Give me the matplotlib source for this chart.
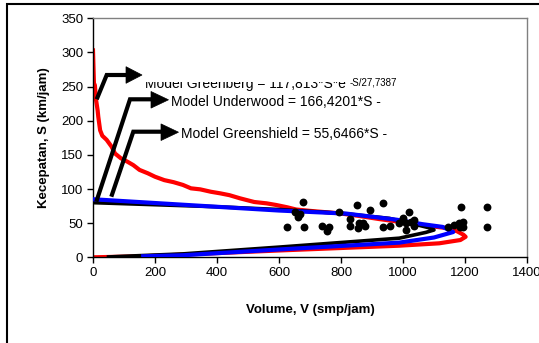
import matplotlib
matplotlib.use('Agg')
import matplotlib.pyplot as plt
from matplotlib.patches import Polygon, Rectangle
from matplotlib.lines import Line2D
from matplotlib.transforms import Bbox, TransformedBbox

plt.rcParams['font.family'] = ['Liberation Sans', 'DejaVu Sans']

# Observed data (volume, speed)
obs_v = [677, 650, 668, 660, 625, 682, 739, 754, 760, 792, 851, 830, 830, 859, 854, 870,
         878, 895, 934, 934, 959, 988, 1001, 1020, 1010, 1010, 1036, 1036, 1026,
         1146, 1165, 1188, 1181, 1195, 1195, 1184, 1272, 1272]
obs_s = [81, 67, 63, 59, 44, 44, 46, 39, 44, 67, 76, 56, 46, 50, 43, 50,
         46, 70, 79, 44, 46, 50, 57, 67, 50, 40, 55, 46, 52,
         44, 47, 73, 50, 52, 45, 44, 73, 44]

# Greenberg model curve (red)
greenberg_v = [0, 3, 6, 10, 15, 17, 20, 23, 30, 44, 60, 71, 90, 111, 130, 150, 177, 200, 230,
               260, 290, 316, 346, 380, 410, 440, 474, 520, 560, 591, 627, 655, 700, 731,
               795, 859, 923, 988, 1043, 1100, 1146, 1175, 1195, 1202, 1185, 1117, 988,
               600, 162, 0]
greenberg_s = [303, 255, 252, 230, 215, 206, 196, 186, 178, 172, 162, 152, 145, 140, 135, 128,
               123, 118, 113, 110, 106, 101, 99.5, 96, 93.7, 91, 86.4, 81, 79, 76.6, 73.2,
               70, 68, 66.8, 64.4, 60.5, 56, 52, 48.5, 45, 42.5, 38, 33, 30, 25.3, 20.5,
               17, 10, 1.5, 0]

# Underwood model curve (black)
underwood_v = [0, 200, 400, 600, 800, 956, 1050, 1095, 1100, 1074, 988, 602, 290, 100, 50]
underwood_s = [80, 77, 74, 70, 64.5, 57, 47, 42, 40, 36.5, 28, 15, 5, 1.5, 0.5]

# Greenshields model curve (blue)
greenshield_v = [0, 344, 600, 817, 980, 1063, 1128, 1162, 1100, 988, 602, 290, 162]
greenshield_s = [85, 75.5, 68.5, 64, 55, 48.5, 44.5, 37, 29, 21.5, 11.5, 3, 1.5]

x_ticks = [0, 200, 400, 600, 800, 1000, 1200, 1400]
y_ticks = [0, 50, 100, 150, 200, 250, 300, 350]

W, H = 539, 343
fig = plt.figure(figsize=(W / 100, H / 100), dpi=100)
ax = fig.add_axes([93 / W, 1 - 257.3 / H, (527 - 93) / W, (257.3 - 18.3) / H])

ax.plot(greenberg_v, greenberg_s, color='#ff0000', lw=3.0, zorder=2, solid_joinstyle='round')
ax.plot(underwood_v, underwood_s, color='#000000', lw=2.6, zorder=3)
ax.plot(greenshield_v, greenshield_s, color='#0000ff', lw=3.0, zorder=4)
ax.scatter(obs_v, obs_s, s=32, color='black', zorder=5, linewidths=0)

ax.set_xlim(0, 1400)
ax.set_ylim(0, 350)
ax.set_xticks(x_ticks)
ax.set_yticks(y_ticks)
ax.tick_params(direction='out', length=4, width=1, labelsize=9.5, pad=3)
for side in ['left', 'bottom']:
    ax.spines[side].set_color('black')
    ax.spines[side].set_linewidth(1.0)
for side in ['top', 'right']:
    ax.spines[side].set_color('#808080')
    ax.spines[side].set_linewidth(1.0)
ax.set_xlabel('Volume, V (smp/jam)', fontsize=9.5, fontweight='bold', labelpad=18)
ax.set_ylabel('Kecepatan, S (km/jam)', fontsize=9.5, fontweight='bold', labelpad=8)


def P(x, y):
    return (x / W, 1 - y / H)


tf = fig.transFigure


def callout(pts, tip_x, y):
    xs = [P(*p)[0] for p in pts]
    ys = [P(*p)[1] for p in pts]
    fig.add_artist(Line2D(xs, ys, transform=tf, color='black', lw=3.0,
                          solid_joinstyle='miter', solid_capstyle='butt'))
    x0 = pts[-1][0]
    tri = [P(x0, y - 8.3), P(tip_x, y), P(x0, y + 8.3)]
    fig.add_artist(Polygon(tri, closed=True, transform=tf, facecolor='black',
                           edgecolor='black', lw=0.5))


callout([(96.7, 99.3), (106.7, 75), (126, 75)], 142, 75)
callout([(96.3, 201.7), (130, 99.3), (151, 99.3)], 168.5, 99.8)
callout([(111.3, 196.7), (133.3, 131.7), (161, 131.7)], 178.5, 132.2)

t1 = fig.text(*P(145, 88.3), 'Model Greenberg = 117,813*S*e', fontsize=10, va='baseline', ha='left')
t1.set_clip_box(TransformedBbox(Bbox.from_extents(*P(140, 200), *P(420, 81.5)), tf))
t1.set_clip_on(True)
fig.text(*P(350, 85.5), '-S/27,7387', fontsize=7, va='baseline', ha='left')
fig.text(*P(171, 106), 'Model Underwood = 166,4201*S -', fontsize=10, va='baseline', ha='left')
fig.text(*P(181, 137.7), 'Model Greenshield = 55,6466*S -', fontsize=10, va='baseline', ha='left')

# outer chart border
fig.add_artist(Rectangle(P(7, 350), (560 - 7) / W, (350 - 4) / H, transform=tf,
                         fill=False, edgecolor='black', lw=1.5))

fig.savefig('out.png', dpi=100)
